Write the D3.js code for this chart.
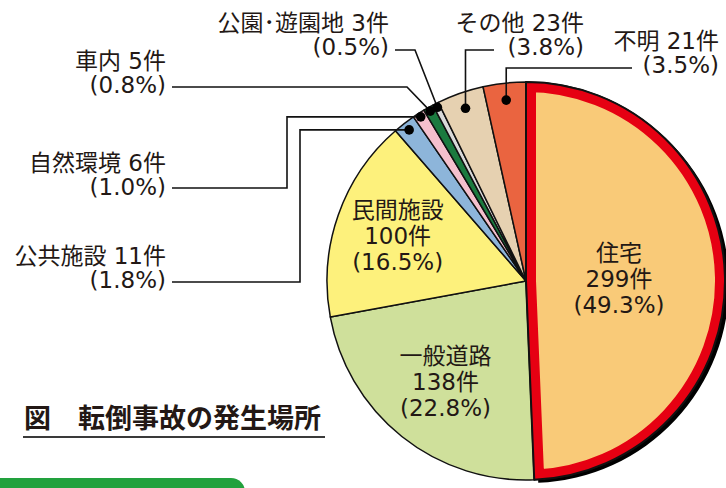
<!DOCTYPE html>
<html>
<head>
<meta charset="utf-8">
<script src="https://cdn.jsdelivr.net/npm/d3@7"></script>
<style>
  html, body { margin: 0; padding: 0; background: #fff; }
  svg { display: block; }
  text { font-family: "DejaVu Sans", "Noto Sans CJK JP", sans-serif; fill: #231815; }
</style>
</head>
<body>
<div id="chart"></div>
<script>
// data
const places = ["住宅", "一般道路", "民間施設", "公共施設", "自然環境", "車内", "公園･遊園地", "その他", "不明"];
const counts = [299, 138, 100, 11, 6, 5, 3, 23, 21];
const shares = [49.3, 22.8, 16.5, 1.8, 1.0, 0.8, 0.5, 3.8, 3.5];
const title = "図　転倒事故の発生場所";

const colors = ["#f9ca78", "#cfe09b", "#fdf17c", "#8db5da", "#f5c0cd", "#1b7a3f", "#d9d9d9", "#e6d1b1", "#ea6440"];

const width = 726, height = 488;
const cx = 526, cy = 281, radius = 199;
const fs = 23;

const svg = d3.select("#chart")
    .append("svg")
    .attr("width", width)
    .attr("height", height)
    .attr("viewBox", [0, 0, width, height]);

const data = places.map((p, i) => ({ place: p, count: counts[i], share: shares[i], color: colors[i] }));

const pie = d3.pie()
    .sort(null)
    .value(d => d.count)
    .startAngle(0)
    .endAngle(2 * Math.PI);

const arcs = pie(data);

const arc = d3.arc()
    .innerRadius(0)
    .outerRadius(radius);

// point on a slice at a given radius (angle = middle of slice)
function polar(a, r) {
    const ang = (a.startAngle + a.endAngle) / 2;
    return [cx + r * Math.sin(ang), cy - r * Math.cos(ang)];
}

const g = svg.append("g").attr("transform", `translate(${cx},${cy})`);

// shadow of the highlighted slice
g.append("path")
    .attr("d", arc(arcs[0]))
    .attr("transform", "translate(4,3)")
    .attr("fill", "#000");

g.selectAll("path.slice")
    .data(arcs)
    .join("path")
    .attr("class", "slice")
    .attr("d", arc)
    .attr("fill", d => d.data.color)
    .attr("stroke", "#111")
    .attr("stroke-width", 1.5)
    .attr("stroke-linejoin", "round");

// red inner frame on 住宅 (wide stroke clipped to the slice)
svg.append("defs").append("clipPath")
    .attr("id", "clip-home")
    .append("path")
    .attr("d", arc(arcs[0]))
    .attr("transform", `translate(${cx},${cy})`);

svg.append("g")
    .attr("clip-path", "url(#clip-home)")
    .append("path")
    .attr("d", arc(arcs[0]))
    .attr("transform", `translate(${cx},${cy})`)
    .attr("fill", "none")
    .attr("stroke", "#e60012")
    .attr("stroke-width", 20);

svg.append("path")
    .attr("d", arc(arcs[0]))
    .attr("transform", `translate(${cx},${cy})`)
    .attr("fill", "none")
    .attr("stroke", "#111")
    .attr("stroke-width", 2)
    .attr("stroke-linejoin", "round");

// labels inside the big slices
const innerR = [93, 129, 136];
const lh = 26;
[0, 1, 2].forEach(i => {
    const [x, y] = polar(arcs[i], innerR[i]);
    const t = svg.append("text")
        .attr("text-anchor", "middle")
        .attr("font-size", fs);
    const lines = [data[i].place, `${data[i].count}件`, `(${data[i].share.toFixed(1)}%)`];
    lines.forEach((s, k) => {
        t.append("tspan")
            .attr("x", x)
            .attr("y", y + (k - 1) * lh + 8)
            .text(s);
    });
});

// callouts for the small slices: dot radius, label anchor, leader route
const callouts = [
    { i: 3, dotR: 191, x: 166, y: 264, route: p => [[172, 282], [300, 282], [300, p[1]], p] },
    { i: 4, dotR: 195, x: 166, y: 171, route: p => [[172, 188], [287, 188], [287, p[1]], p] },
    { i: 5, dotR: 195, x: 166, y: 69, route: p => [[172, 87], [407, 87], p] },
    { i: 6, dotR: 195, x: 389, y: 31, route: p => [[395, 50], [415, 50], p] },
    { i: 7, dotR: 183, x: 584, y: 31, route: p => [[494, 50], [p[0], 50], p] },
    { i: 8, dotR: 182, x: 719, y: 49, route: p => [[632, 68], [p[0], 68], p] }
];

const lineGen = d3.line();

callouts.forEach(c => {
    const a = arcs[c.i];
    const p = polar(a, c.dotR);
    svg.append("path")
        .attr("d", lineGen(c.route(p)))
        .attr("fill", "none")
        .attr("stroke", "#111")
        .attr("stroke-width", 1.6);
    svg.append("circle")
        .attr("cx", p[0])
        .attr("cy", p[1])
        .attr("r", 4.8)
        .attr("fill", "#000");
    const t = svg.append("text")
        .attr("text-anchor", "end")
        .attr("font-size", fs);
    t.append("tspan")
        .attr("x", c.x)
        .attr("y", c.y)
        .text(`${data[c.i].place} ${data[c.i].count}件`);
    t.append("tspan")
        .attr("x", c.x)
        .attr("y", c.y + 24)
        .text(`(${data[c.i].share.toFixed(1)}%)`);
});

// title
svg.append("text")
    .attr("x", 24)
    .attr("y", 428)
    .attr("font-size", 27)
    .attr("font-weight", 700)
    .style("font-family", "'Noto Sans CJK JP', sans-serif")
    .text(title);

svg.append("line")
    .attr("x1", 23)
    .attr("x2", 325)
    .attr("y1", 437)
    .attr("y2", 437)
    .attr("stroke", "#3a3a3a")
    .attr("stroke-width", 2);

// green band at the bottom
svg.append("rect")
    .attr("x", -20)
    .attr("y", 478)
    .attr("width", 265)
    .attr("height", 40)
    .attr("rx", 14)
    .attr("fill", "#22a13d");
</script>
</body>
</html>
